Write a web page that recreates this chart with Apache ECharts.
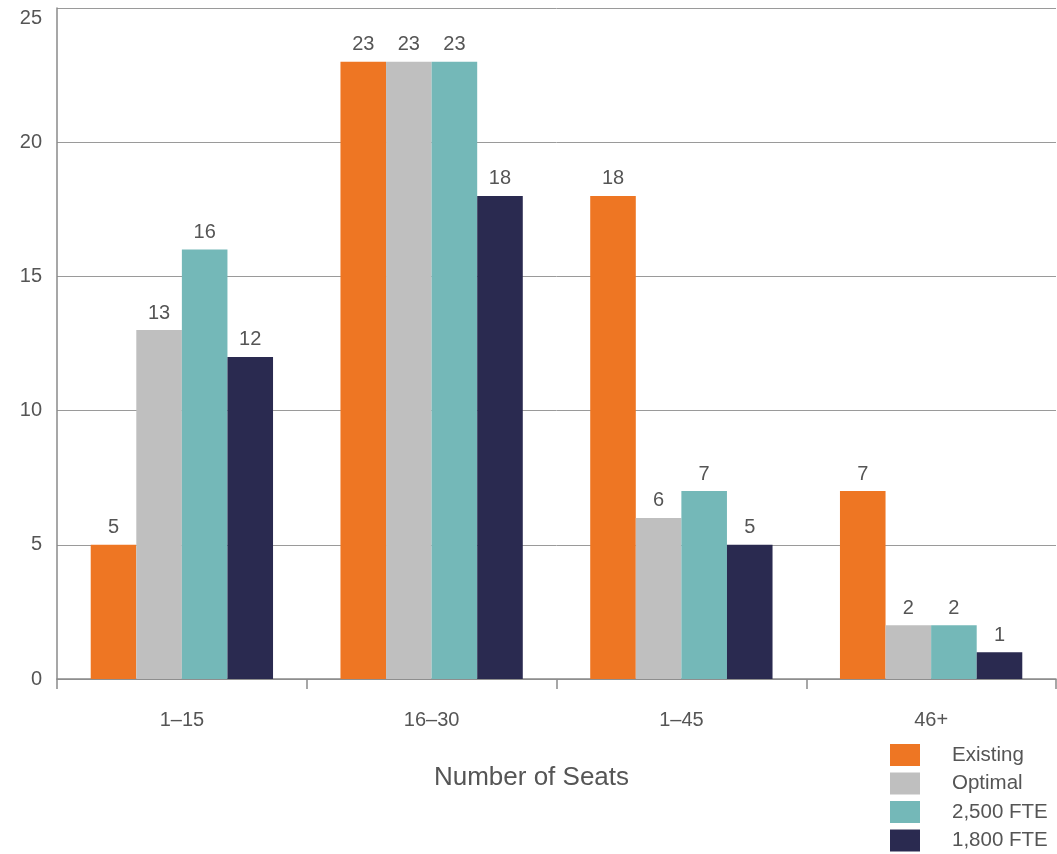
<!DOCTYPE html>
<html><head><meta charset="utf-8">
<script src="https://cdn.jsdelivr.net/npm/echarts@6/dist/echarts.min.js"></script>
<style>html,body{margin:0;padding:0;background:#fff}#c{width:1057px;height:854px}</style>
</head><body><div id="c"></div>
<script>
const categories = ['1–15', '16–30', '1–45', '46+'];
const seriesNames = ['Existing', 'Optimal', '2,500 FTE', '1,800 FTE'];
const existing = [5, 23, 18, 7];
const optimal = [13, 23, 6, 2];
const fte2500 = [16, 23, 7, 2];
const fte1800 = [12, 18, 5, 1];
const colors = ['#EE7623', '#BFBFBF', '#74B8B8', '#2A2A50'];
const values = [existing, optimal, fte2500, fte1800];
const font = 'Helvetica, "Liberation Sans", Arial, sans-serif';

const chart = echarts.init(document.getElementById('c'));
chart.setOption({
  animation: false,
  textStyle: {fontFamily: font},
  grid: {left: 57, right: 1, top: 8, bottom: 175, containLabel: false},
  legend: {
    orient: 'vertical', left: 890, top: 744, padding: 0,
    itemWidth: 30, itemHeight: 22, itemGap: 6.5,
    icon: 'rect',
    textStyle: {fontSize: 20.5, color: '#555', fontFamily: font, padding: [0, 0, 0, 27]},
    data: seriesNames
  },
  xAxis: {
    type: 'category', data: categories,
    name: 'Number of Seats', nameLocation: 'middle', nameGap: 86,
    nameTextStyle: {fontSize: 26, color: '#555', fontFamily: font, padding: [0, 50, 0, 0]},
    axisLine: {lineStyle: {color: '#8a8a8a', width: 1.5}},
    axisTick: {show: true, length: 10, inside: false, lineStyle: {color: '#8a8a8a', width: 1.5}},
    axisLabel: {fontSize: 20, color: '#555', margin: 31, fontFamily: font}
  },
  yAxis: {
    type: 'value', min: 0, max: 25, interval: 5,
    axisLine: {show: true, lineStyle: {color: '#8a8a8a', width: 1.5}},
    axisTick: {show: false},
    splitLine: {lineStyle: {color: '#9a9a9a', width: 1}},
    axisLabel: {
      fontSize: 20, color: '#555', margin: 15, fontFamily: font,
      formatter: v => v === 25 ? '{top|25}' : String(v),
      rich: {top: {fontSize: 20, color: '#555', fontFamily: font, padding: [20, 0, 0, 0]}}
    }
  },
  series: seriesNames.map((n, i) => ({
    name: n, type: 'bar', data: values[i],
    barGap: '0%', barCategoryGap: '27%',
    itemStyle: {color: colors[i]},
    label: {show: true, position: 'top', distance: 7, fontSize: 20, color: '#555', fontFamily: font}
  }))
});
</script></body></html>
